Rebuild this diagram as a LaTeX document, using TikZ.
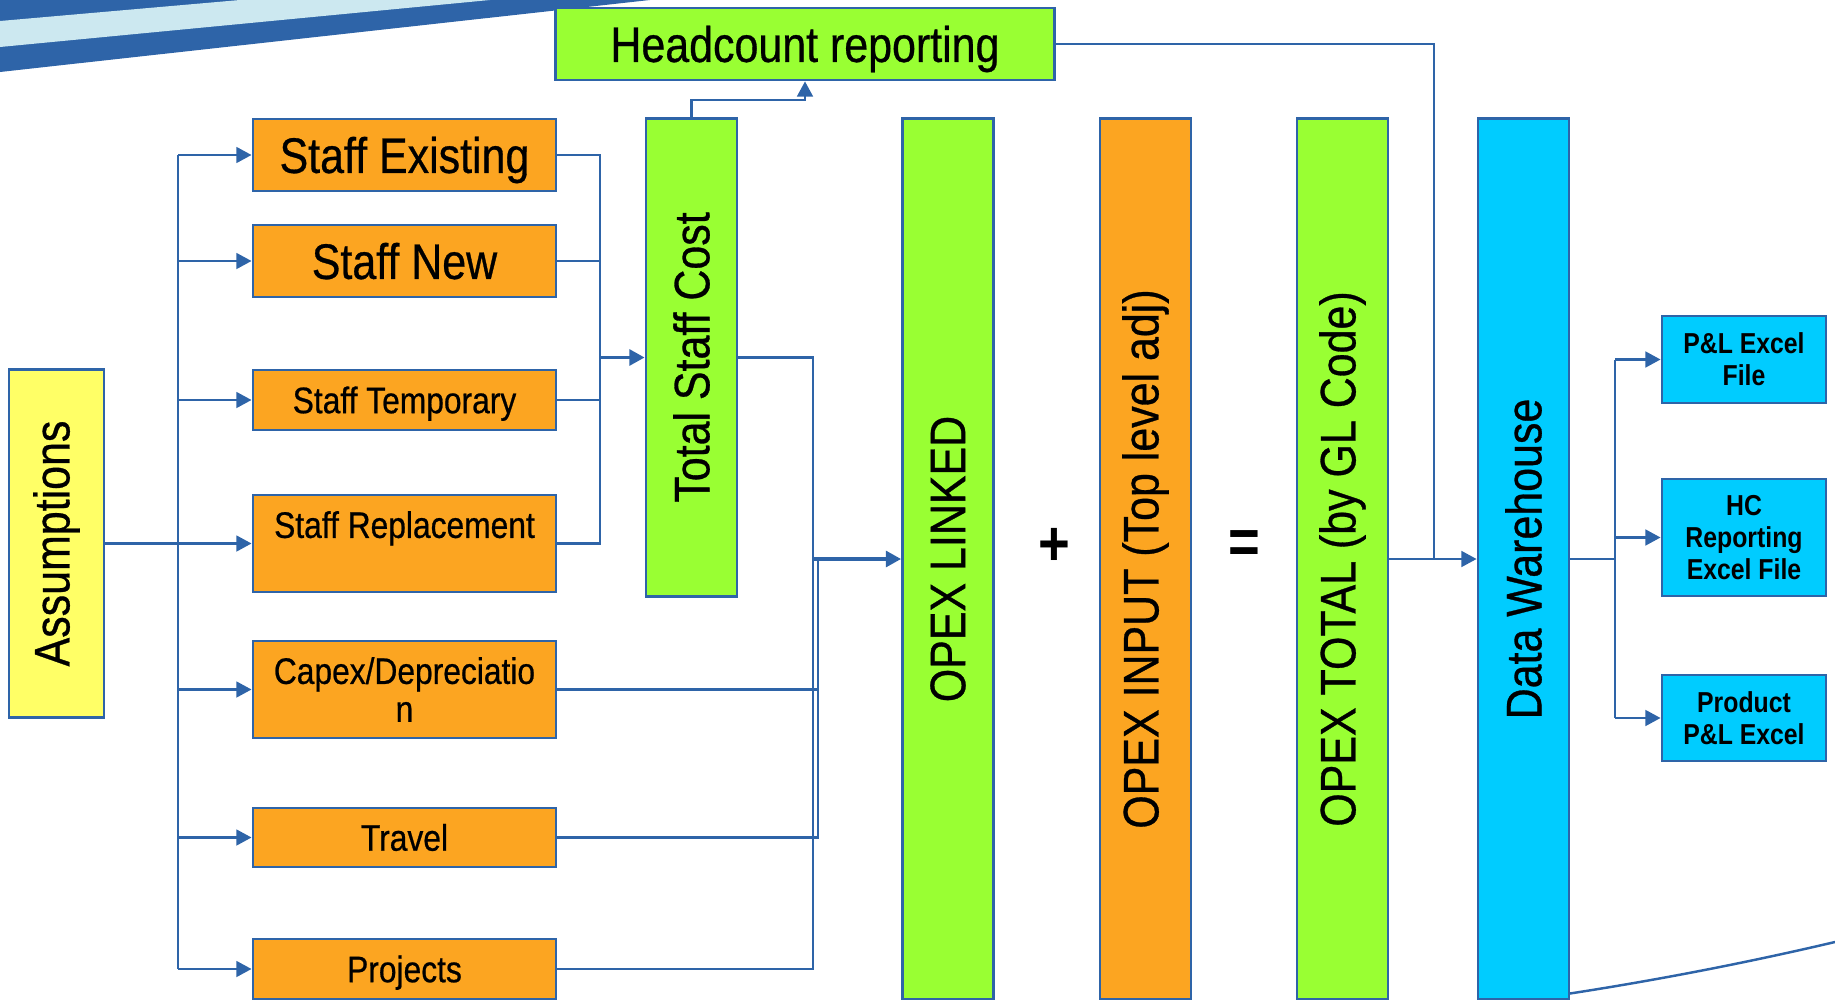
\documentclass[tikz,border=0pt]{standalone}
\usepackage{fontspec}
\setmainfont{Liberation Sans}[FakeStretch=0.86,UprightFeatures={FakeBold=0.6}]
\usepackage{tikz}
\usetikzlibrary{arrows.meta}

\definecolor{boxorange}{HTML}{FCA521}
\definecolor{boxgreen}{HTML}{99FF33}
\definecolor{boxyellow}{HTML}{FFFF66}
\definecolor{boxcyan}{HTML}{00CCFF}
\definecolor{lineblue}{HTML}{2E64A8}
\definecolor{swooshlight}{HTML}{CCE8F0}

\newcommand{\bigtxt}{\fontsize{14.2}{17}\selectfont}
\newcommand{\midtxt}{\fontsize{10.5}{10.8}\selectfont}
\newcommand{\smalltxt}{\fontsize{8.2}{9.2}\selectfont\bfseries}

\begin{document}
\begin{tikzpicture}[x=0.01cm,y=-0.01cm,>={Triangle[length=4.3pt,width=4.5pt]},
	box/.style={draw=lineblue,line width=0.8pt,inner sep=0pt,align=center},
	orangebox/.style={box,fill=boxorange,minimum width=3.03cm},
	bigline/.style={font=\bigtxt,text height=10.2pt,text depth=0pt},
	midline/.style={font=\midtxt,text height=7.5pt,text depth=0pt},
	tall/.style={box,minimum width=0.91cm,minimum height=8.8cm,font=\bigtxt},
	smallbox/.style={box,fill=boxcyan,minimum width=1.64cm,font=\smalltxt},
	conn/.style={draw=lineblue,line width=0.6pt},
	thickconn/.style={draw=lineblue,line width=0.9pt}]
	\useasboundingbox (0,0) rectangle (1835,1000);

	% swooshes
	\fill[lineblue] (0,0) -- (650,0) -- (0,72) -- cycle;
	\fill[swooshlight] (0,21) -- (240,0) -- (490,0) -- (0,47) -- cycle;
	\draw[lineblue,line width=0.7pt] (1540,998) .. controls (1650,982) and (1750,962) .. (1835,942);

	\node[box,fill=boxgreen,minimum width=4.98cm,minimum height=0.72cm,bigline] (head) at (805,44) {Headcount reporting};

	\node[box,fill=boxyellow,minimum width=0.95cm,minimum height=3.47cm,font=\bigtxt] (as) at (56.5,543.5) {\rotatebox{90}{Assumptions}};

	\node[orangebox,minimum height=0.72cm,bigline] (se) at (404.5,155) {Staff Existing};
	\node[orangebox,minimum height=0.72cm,bigline] (sn) at (404.5,261) {Staff New};
	\node[orangebox,minimum height=0.60cm,midline] (st) at (404.5,400) {Staff Temporary};
	\node[orangebox,minimum height=0.97cm,font=\midtxt] (sr) at (404.5,543.5) {Staff Replacement\\\mbox{}};
	\node[orangebox,minimum height=0.97cm,font=\midtxt] (cx) at (404.5,689.5) {Capex/Depreciatio\\n};
	\node[orangebox,minimum height=0.59cm,midline] (tr) at (404.5,837.5) {Travel};
	\node[orangebox,minimum height=0.60cm,midline] (pj) at (404.5,969) {Projects};

	\node[tall,fill=boxgreen,minimum height=4.77cm] (tsc) at (691.5,357.5) {\rotatebox{90}{Total Staff Cost}};
	\node[tall,fill=boxgreen] (ol) at (948,559) {\rotatebox{90}{OPEX LINKED}};
	\node[font=\fontsize{18}{18}\selectfont\bfseries] (plus) at (1054,547) {+};
	\node[tall,fill=boxorange] (oi) at (1145.5,559) {\rotatebox{90}{OPEX INPUT (Top level adj)}};
	\node[font=\fontsize{18}{18}\selectfont\bfseries] (eq) at (1244,547) {=};
	\node[tall,fill=boxgreen] (ot) at (1342.5,559) {\rotatebox{90}{OPEX TOTAL (by GL Code)}};
	\node[tall,fill=boxcyan] (dw) at (1523.5,559) {\rotatebox{90}{Data Warehouse}};

	\node[smallbox,minimum height=0.87cm] (pl) at (1744,359.5) {P\&L Excel\\File};
	\node[smallbox,minimum height=1.17cm] (hc) at (1744,537.5) {HC\\Reporting\\Excel File};
	\node[smallbox,minimum height=0.86cm] (pp) at (1744,718) {Product\\P\&L Excel};

	\coordinate (lbus) at (178,0);
	\coordinate (sbus) at (600,0);
	\coordinate (obus) at (813,0);
	\coordinate (obustwo) at (818,0);
	\coordinate (hbend) at (0,100);
	\coordinate (hcol) at (1434,0);
	\coordinate (rbus) at (1615,0);

	% assumptions to the cost items
	\draw[conn,->] (as.east) -- (sr.west);
	\draw[conn] (lbus |- se) -- (lbus |- pj);
	\foreach \n in {se,sn,st,cx,tr,pj}
		\draw[conn,->] (lbus |- \n) -- (\n.west);

	% staff items to total staff cost
	\draw[conn] (se.east) -| (sbus |- sr) -- (sr.east);
	\foreach \n in {sn,st}
		\draw[conn] (\n.east) -- (sbus |- \n);
	\draw[thickconn,->] (sbus |- tsc) -- (tsc.west);
	\draw[conn,->] (tsc.north) |- (head.south |- hbend) -- (head.south);

	% into opex linked
	\draw[conn] (tsc.east) -| (obus |- pj) -- (pj.east);
	\draw[conn] (tr.east) -| (obustwo |- ol);
	\draw[conn] (cx.east) -- (obustwo |- cx);
	\draw[thickconn,->] (obus |- ol) -- (ol.west);

	% data warehouse and reports
	\draw[conn,->] (ot.east) -- (dw.west);
	\draw[conn] (head.east) -| (hcol |- dw);
	\draw[conn] (dw.east) -- (rbus |- dw);
	\draw[conn] (rbus |- pl) -- (rbus |- pp);
	\foreach \n in {pl,hc,pp}
		\draw[conn,->] (rbus |- \n) -- (\n.west);
\end{tikzpicture}
\end{document}
